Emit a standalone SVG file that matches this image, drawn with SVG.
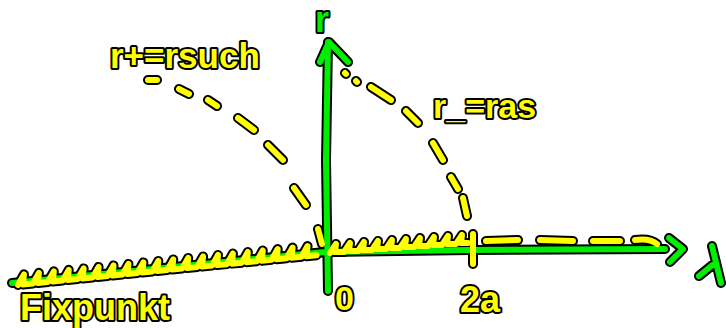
<svg xmlns="http://www.w3.org/2000/svg" xmlns:xlink="http://www.w3.org/1999/xlink" width="726" height="328" viewBox="0 0 726 328">
<style>
.ol{fill:none;stroke:#000;stroke-width:10;stroke-linecap:round;stroke-linejoin:round}
.gr{fill:none;stroke:#00ee00;stroke-width:6;stroke-linecap:round;stroke-linejoin:round}
.ye{fill:none;stroke:#ffff00;stroke-width:6;stroke-linecap:round;stroke-linejoin:round}
.t{font-family:"Liberation Sans",Arial,sans-serif;font-weight:bold;stroke:#000;stroke-width:4;paint-order:stroke;stroke-linejoin:round}
.ty{fill:#ffff00}
.tg{fill:#00ee00}
</style>
<defs>
<path id="axes" d="M328,291 L326,160 L328,42 M320,62 L329,42 L348,62 M12,283 L325,252 L470,250 L665,249 M669,238 L683,249 L670,262 M699,276 L715,263 M712,246 L721,283"/>
<path id="curves" d="M148,80 L157,80 M179,89 L189,94 M208,100 L217,106 M238,118 L254,130 M268,145 L283,160 M294,188 L306,205 M318,229 L322,244 M345,73 L346,74 M356,81 L357,82 M371,87 L391,100 M406,111 L418,123 M433,143 L443,160 M451,177 L458,189 M463,198 L467,216 M473,234 L473,264 M486,241 L518,240 M540,240 L573,241 M593,241 L620,241 M635,240 Q650,238 657,244"/>
<path id="hatchL" transform="translate(18,285) rotate(-5.7)" d="M0,0 l7,-10 l-2,10 l10,0 l7,-10 l-2,10 l10,0 l7,-10 l-2,10 l10,0 l7,-10 l-2,10 l10,0 l7,-10 l-2,10 l10,0 l7,-10 l-2,10 l10,0 l7,-10 l-2,10 l10,0 l7,-10 l-2,10 l10,0 l7,-10 l-2,10 l10,0 l7,-10 l-2,10 l10,0 l7,-10 l-2,10 l10,0 l7,-10 l-2,10 l10,0 l7,-10 l-2,10 l10,0 l7,-10 l-2,10 l10,0 l7,-10 l-2,10 l10,0 l7,-10 l-2,10 l10,0 l7,-10 l-2,10 l10,0 l7,-10 l-2,10 l10,0 l7,-10 l-2,10 l10,0 l7,-10 l-2,10 l10,0"/>
<path id="hatchR" d="M330,253 l6,-9 l-1,8 l9,0 l6,-9 l-1,8 l9,0 l6,-9 l-1,8 l9,0 l6,-9 l-1,8 l9,0 l6,-9 l-1,8 l9,0 l6,-9 l-1,8 l9,0 l6,-9 l-1,8 l9,0 l6,-9 l-1,8 l9,0 l6,-9 l-1,8 l9,0 l6,-9 l-1,8 l7,0"/>
</defs>
<g id="outlines">
<use class="ol" xlink:href="#axes"/>
<use class="ol" xlink:href="#curves"/>
<use class="ol" xlink:href="#hatchL"/>
<use class="ol" xlink:href="#hatchR"/>
</g>
<g id="axes-group">
<use class="gr" xlink:href="#axes"/>
</g>
<g id="connectors">
<use class="ye" xlink:href="#curves"/>
<use class="ye" xlink:href="#hatchL"/>
<use class="ye" xlink:href="#hatchR"/>
</g>
<g id="labels">
<text class="t tg" x="315" y="32" font-size="36">r</text>
<text class="t ty" x="110" y="68" font-size="35">r+=rsuch</text>
<text class="t ty" x="433" y="118" font-size="34">r_=ras</text>
<text class="t ty" x="20" y="320" font-size="36">Fixpunkt</text>
<text class="t ty" x="335" y="310" font-size="34">0</text>
<text class="t ty" x="460" y="312" font-size="36">2a</text>
</g>
</svg>
